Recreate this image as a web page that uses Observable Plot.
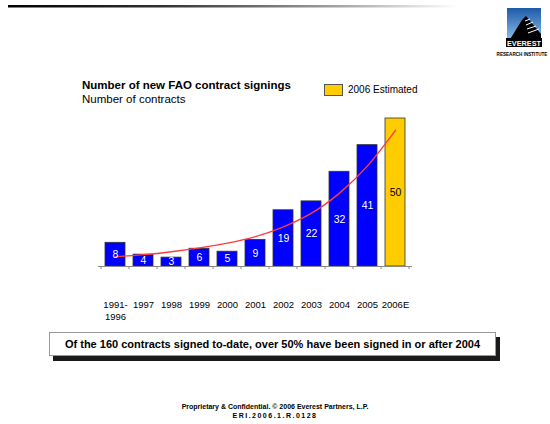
<!DOCTYPE html>
<html><head><meta charset="utf-8">
<script src="https://cdn.jsdelivr.net/npm/d3@7"></script>
<script src="https://cdn.jsdelivr.net/npm/@observablehq/plot@0.6"></script>
<style>
html,body{margin:0;padding:0;background:#fff;}
#page{position:relative;width:550px;height:424px;overflow:hidden;font-family:Arial,"Liberation Sans",sans-serif;color:#000;}
#deco{position:absolute;left:0;top:0;}
#chart{position:absolute;left:0;top:0;}
.t{position:absolute;white-space:nowrap;}
#title{left:82px;top:79px;font-size:11.5px;font-weight:bold;}
#subtitle{left:82px;top:93px;font-size:11.5px;}
#legbox{position:absolute;left:324px;top:84px;width:17px;height:10px;background:#FFCC00;border:1px solid #555;}
#legtext{left:348px;top:84px;font-size:10px;}
#callout{position:absolute;left:49px;top:332px;width:445px;height:22px;border:1px solid #999;background:#fff;box-shadow:4px 5px 0 #1a1a1a;font-size:11px;font-weight:bold;text-align:center;line-height:22px;}
#foot1{left:0;width:550px;text-align:center;top:403px;font-size:7px;font-weight:bold;}
#foot2{left:0;width:550px;text-align:center;top:412px;font-size:7px;font-weight:bold;letter-spacing:1.5px;}
</style></head>
<body><div id="page">
<svg id="deco" width="550" height="424">
  <defs>
    <linearGradient id="topline" x1="0" x2="1" y1="0" y2="0">
      <stop offset="0" stop-color="#000"/>
      <stop offset="0.35" stop-color="#333"/>
      <stop offset="0.7" stop-color="#999"/>
      <stop offset="1" stop-color="#fff"/>
    </linearGradient>
    <linearGradient id="sky" x1="0" x2="0" y1="0" y2="1">
      <stop offset="0" stop-color="#1d5aa8"/>
      <stop offset="1" stop-color="#9ccbf0"/>
    </linearGradient>
  </defs>
  <rect x="8" y="5" width="450" height="2.5" fill="url(#topline)"/>
  <rect x="507" y="8" width="34" height="36" fill="url(#sky)"/>
  <polygon points="507,44 522,20 526,16 541,34 541,44" fill="#000"/>
  <g stroke="#fff" stroke-width="1">
    <line x1="525" y1="21" x2="530" y2="19"/>
    <line x1="526" y1="25" x2="533" y2="22"/>
    <line x1="527" y1="29" x2="536" y2="26"/>
    <line x1="528" y1="33" x2="539" y2="29"/>
  </g>
  <rect x="506" y="38" width="36" height="9" fill="#000"/>
  <text x="524" y="45.5" text-anchor="middle" font-family="Arial,'Liberation Sans',sans-serif" font-size="7.3" font-weight="bold" fill="#fff">EVEREST</text>
  <text x="522" y="56" text-anchor="middle" font-family="Arial,'Liberation Sans',sans-serif" font-size="4.6" font-weight="bold" fill="#000">RESEARCH INSTITUTE</text>
</svg>
<div id="chart"></div>
<div class="t" id="title">Number of new FAO contract signings</div>
<div class="t" id="subtitle">Number of contracts</div>
<div id="legbox"></div>
<div class="t" id="legtext"></div>
<div id="callout"></div>
<div class="t" id="foot1">Proprietary &amp; Confidential. © 2006 Everest Partners, L.P.</div>
<div class="t" id="foot2">ERI.2006.1.R.0128</div>
</div>
<script>
// ---- data ----
const categories = ["1991-\n1996", "1997", "1998", "1999", "2000", "2001", "2002", "2003", "2004", "2005", "2006E"];
const contracts = [8, 4, 3, 6, 5, 9, 19, 22, 32, 41, 50];
const estimated = [false, false, false, false, false, false, false, false, false, false, true];
const trendValues = [3.3, 4.0, 5.0, 6.3, 7.9, 10.1, 13.4, 18.0, 24.8, 34.0, 46];
const legendLabel = "2006 Estimated";
const calloutText = "Of the 160 contracts signed to-date, over 50% have been signed in or after 2004";

document.getElementById("legtext").textContent = legendLabel;
document.getElementById("callout").textContent = calloutText;

const data = categories.map((c, i) => ({cat: c, value: contracts[i], est: estimated[i]}));
const trend = categories.map((c, i) => ({cat: c, value: trendValues[i]}));

const plot = Plot.plot({
  width: 550,
  height: 330,
  marginLeft: 98,
  marginRight: 138,
  marginTop: 118,
  marginBottom: 64,
  style: {fontFamily: "Arial, 'Liberation Sans', sans-serif", background: "transparent", color: "#000"},
  x: {domain: categories, paddingInner: 0.29, paddingOuter: 0.145, label: null},
  y: {domain: [0, 50], axis: null},
  marks: [
    Plot.barY(data, {x: "cat", y: "value", fill: d => d.est ? "#FFCC00" : "#0000FF", stroke: "#333", strokeWidth: 0.8}),
    Plot.ruleY([0], {stroke: "#888", strokeWidth: 1}),
    Plot.line(trend, {x: "cat", y: "value", curve: "natural", stroke: "#FF3B3B", strokeWidth: 1.4}),
    Plot.text(data, {x: "cat", y: d => d.value / 2, text: d => String(d.value), fill: d => d.est ? "#000" : "#fff", fontSize: 10.5}),
    Plot.axisX({tickSize: 0, tickPadding: 33, fontSize: 9.5, lineHeight: 1.25, label: null})
  ]
});
document.getElementById("chart").appendChild(plot);

// boundary tick marks on the category axis, using Plot's own x scale
const sx = plot.scale("x");
const y0 = plot.scale("y").apply(0);
const bounds = categories.map(c => sx.apply(c) - (sx.step - sx.bandwidth) / 2);
bounds.push(sx.apply(categories[categories.length - 1]) + sx.bandwidth + (sx.step - sx.bandwidth) / 2);
d3.select(plot).append("g").attr("stroke", "#888")
  .selectAll("line").data(bounds).join("line")
  .attr("x1", d => d).attr("x2", d => d)
  .attr("y1", y0).attr("y2", y0 + 3);
</script>
</body></html>
